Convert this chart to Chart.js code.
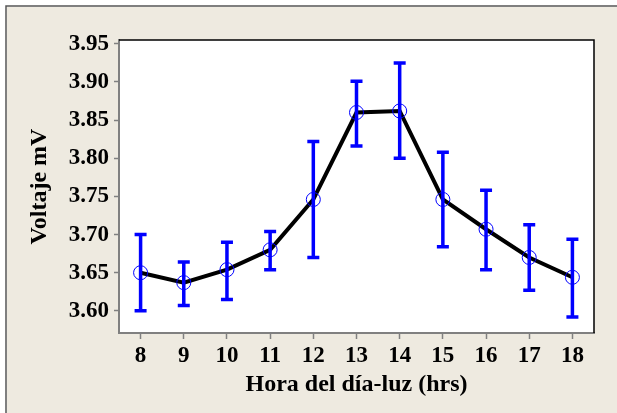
<!DOCTYPE html>
<html>
<head>
<meta charset="utf-8">
<script src="https://cdn.jsdelivr.net/npm/chart.js@4/dist/chart.umd.min.js"></script>
<style>
  body { margin: 0; background: #ffffff; }
  #wrap { width: 617px; height: 413px; }
</style>
</head>
<body>
<div id="wrap"><canvas id="line-chart" width="617" height="413"></canvas></div>
<script>
// valores
var horas   = [8, 9, 10, 11, 12, 13, 14, 15, 16, 17, 18]
var voltaje = [3.650, 3.637, 3.654, 3.680, 3.746, 3.860, 3.862, 3.746, 3.707, 3.670, 3.644]
var limSup  = [3.700, 3.664, 3.690, 3.704, 3.822, 3.901, 3.925, 3.808, 3.758, 3.713, 3.694]
var limInf  = [3.600, 3.607, 3.615, 3.654, 3.670, 3.816, 3.800, 3.684, 3.654, 3.627, 3.592]
var yTicks  = [3.60, 3.65, 3.70, 3.75, 3.80, 3.85, 3.90, 3.95]
var xTicks  = [8, 9, 10, 11, 12, 13, 14, 15, 16, 17, 18]

var fuente = "'Liberation Serif', 'Times New Roman', serif"
var beige = "#eeeae0"

var puntos = []
for (var i = 0; i < horas.length; i++){
  puntos.push({x: horas[i], y: voltaje[i]})
}

var fondo = {
  id: "fondo",
  beforeDraw: function(chart){
    var ctx = chart.ctx
    var a = chart.chartArea
    ctx.save()
    ctx.fillStyle = "#ffffff"
    ctx.fillRect(0, 0, chart.width, chart.height)
    ctx.fillStyle = beige
    ctx.fillRect(7, 7, chart.width - 7, chart.height - 7)
    ctx.strokeStyle = "#555555"
    ctx.lineWidth = 1.5
    ctx.beginPath()
    ctx.moveTo(6, chart.height)
    ctx.lineTo(6, 6)
    ctx.lineTo(chart.width, 6)
    ctx.stroke()
    ctx.fillStyle = "#ffffff"
    ctx.fillRect(a.left, a.top, a.right - a.left, a.bottom - a.top)
    ctx.restore()
  },
  afterDraw: function(chart){
    var ctx = chart.ctx
    var a = chart.chartArea
    ctx.save()
    ctx.strokeStyle = "#000000"
    ctx.lineWidth = 1.5
    ctx.beginPath()
    ctx.moveTo(a.left, a.top)
    ctx.lineTo(a.right, a.top)
    ctx.lineTo(a.right, a.bottom)
    ctx.stroke()
    ctx.restore()
  }
}

var barrasError = {
  id: "barrasError",
  afterDatasetsDraw: function(chart){
    var ctx = chart.ctx
    var xs = chart.scales.x
    var ys = chart.scales.y
    ctx.save()
    ctx.strokeStyle = "#0000ff"
    ctx.lineWidth = 3.5
    for (var i = 0; i < horas.length; i++){
      var px = xs.getPixelForValue(horas[i])
      var pt = ys.getPixelForValue(limSup[i])
      var pb = ys.getPixelForValue(limInf[i])
      ctx.beginPath()
      ctx.moveTo(px, pt)
      ctx.lineTo(px, pb)
      ctx.moveTo(px - 6, pt)
      ctx.lineTo(px + 6, pt)
      ctx.moveTo(px - 6, pb)
      ctx.lineTo(px + 6, pb)
      ctx.stroke()
    }
    ctx.restore()
  }
}

var myChart = new Chart(document.getElementById("line-chart"), {
  type: 'line',
  data: {
    datasets: [{
      data: puntos,
      borderColor: "#000000",
      borderWidth: 4,
      fill: false,
      tension: 0,
      pointRadius: 7,
      pointBorderWidth: 1,
      pointBorderColor: "#0000ff",
      pointBackgroundColor: "rgba(0,0,0,0)"
    }]
  },
  options: {
    responsive: false,
    animation: false,
    layout: { padding: { top: 40, right: 23, bottom: 0, left: 0 } },
    plugins: {
      legend: { display: false },
      tooltip: { enabled: false }
    },
    scales: {
      x: {
        type: 'linear',
        min: 7.5,
        max: 18.5,
        afterFit: function(scale){ scale.height = 80 },
        afterBuildTicks: function(scale){
          scale.ticks = xTicks.map(function(v){ return {value: v} })
        },
        grid: { drawOnChartArea: false, tickLength: 6, color: "#808080", tickWidth: 1.5 },
        border: { color: "#808080", width: 2 },
        ticks: {
          color: "#000000",
          padding: 3,
          font: { family: fuente, size: 23, weight: 'bold' },
          callback: function(v){ return v }
        },
        title: {
          display: true,
          text: "Hora del día-luz (hrs)",
          color: "#000000",
          font: { family: fuente, size: 24, weight: 'bold' },
          padding: { top: 0, bottom: 14 }
        }
      },
      y: {
        min: 3.571,
        max: 3.955,
        afterFit: function(scale){ scale.width = 119 },
        afterBuildTicks: function(scale){
          scale.ticks = yTicks.map(function(v){ return {value: v} })
        },
        grid: { drawOnChartArea: false, tickLength: 5, color: "#808080", tickWidth: 1.5 },
        border: { color: "#808080", width: 2 },
        ticks: {
          color: "#000000",
          padding: 5,
          font: { family: fuente, size: 23, weight: 'bold' },
          callback: function(v){ return v.toFixed(2) }
        },
        title: {
          display: true,
          text: "Voltaje mV",
          color: "#000000",
          font: { family: fuente, size: 24, weight: 'bold' },
          padding: { top: 25, bottom: 0 }
        }
      }
    }
  },
  plugins: [fondo, barrasError]
});
</script>
</body>
</html>
